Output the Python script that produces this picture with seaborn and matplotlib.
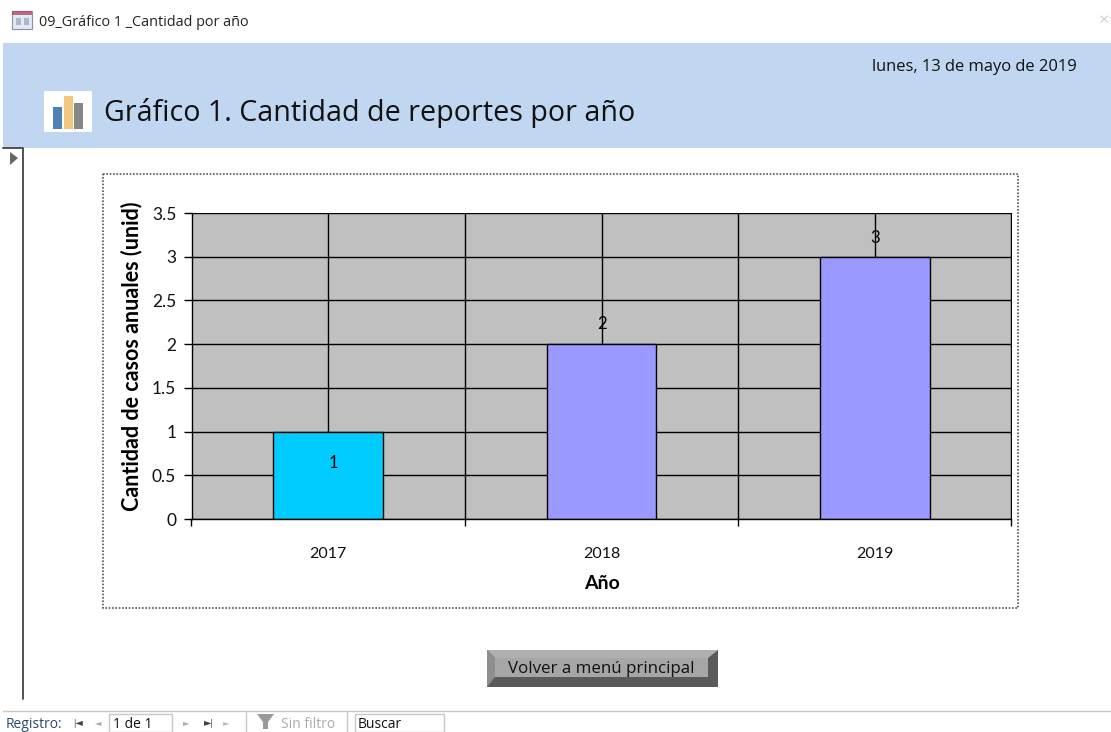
import matplotlib
matplotlib.use("Agg")
import matplotlib.pyplot as plt
from matplotlib.patches import Rectangle, Polygon
import pandas as pd
import seaborn as sns

#==================
#Chart data
#==================
years = ["2017", "2018", "2019"]
cases = [1, 2, 3]
bar_colors = ["#00CCFF", "#9999FF", "#9999FF"]
y_ticks = [0, 0.5, 1, 1.5, 2, 2.5, 3, 3.5]
y_labels = ["0", "0.5", "1", "1.5", "2", "2.5", "3", "3.5"]
label_dx = [5, 0, 0]
label_dy = [-31, 20, 19]

df = pd.DataFrame({"Year": years, "Cases": cases})

sns.set_theme(style="white")
plt.rcParams["font.family"] = ["Lato", "DejaVu Sans"]

W, H = 1111, 732
fig = plt.figure(figsize=(W / 100, H / 100), dpi=100)

#==================
#Window around the chart (pixel coordinates)
#==================
bg = fig.add_axes([0, 0, 1, 1], zorder=0)
bg.set_xlim(0, W)
bg.set_ylim(H, 0)
bg.axis("off")

# header band
bg.add_patch(Rectangle((3, 43), 1108, 105, fc="#C1D7F1", ec="none"))
bg.text(39, 23, "09_Gráfico 1 _Cantidad por año", fontsize=10.35, family="Open Sans",
        va="center", color="#222222")
bg.add_patch(Rectangle((12, 11), 20, 18, fc="#E4E8F2", ec="#8A8FA5", lw=0.8))
bg.add_patch(Rectangle((12, 11), 20, 4, fc="#B0405F", ec="none", alpha=0.75))
bg.add_patch(Rectangle((16, 18), 5, 7, fc="#AEB6CC", ec="none"))
bg.add_patch(Rectangle((24, 18), 5, 7, fc="#AEB6CC", ec="none"))
bg.text(1077, 67, "lunes, 13 de mayo de 2019", fontsize=11.9, family="Open Sans",
        ha="right", va="center", color="#111111")
bg.text(104, 113, "Gráfico 1. Cantidad de reportes por año", fontsize=20.6,
        family="Open Sans", va="center", color="#111111")
bg.text(1104, 20, "×", fontsize=13, ha="center", va="center", color="#D0D0D0")

# title icon
bg.add_patch(Rectangle((44, 91), 48, 41, fc="white", ec="none"))
bg.add_patch(Rectangle((53, 107), 9, 22, fc="#4F81B5", ec="none"))
bg.add_patch(Rectangle((64, 96), 9, 33, fc="#EFC77E", ec="none"))
bg.add_patch(Rectangle((74, 103), 9, 26, fc="#868686", ec="none"))

# record selector
bg.plot([3, 23, 23], [148, 148, 699], color="#444444", lw=1.3)
bg.add_patch(Polygon([(10, 152), (10, 165), (18, 158)], fc="#666666", ec="none"))

# dotted frame of the chart
bg.add_patch(Rectangle((102.5, 174), 915.5, 434, fc="white", ec="#555555", lw=1.2,
                       ls=(0, (1, 1))))

# button
bg.add_patch(Rectangle((487, 650), 231, 37, fc="#5A5A5A", ec="none"))
bg.add_patch(Polygon([(487, 650), (718, 650), (708, 658), (495, 658)], fc="#B0B0B0", ec="none"))
bg.add_patch(Polygon([(487, 650), (495, 658), (495, 677), (487, 687)], fc="#8E8E8E", ec="none"))
bg.add_patch(Rectangle((495, 658), 213, 19, fc="#A6A6A6", ec="none"))
bg.text(601, 669, "Volver a menú principal", fontsize=12.2, family="Open Sans",
        ha="center", va="center", color="#111111")

# record navigation bar
bg.plot([3, W], [711, 711], color="#C8C8C8", lw=1)
bg.text(6, 724, "Registro:", fontsize=10, family="Open Sans", va="center", color="#2B4A6B")
bg.text(73, 723, "|◄", fontsize=7, va="center", color="#444444")
bg.text(95, 723, "◄", fontsize=6, va="center", color="#AAAAAA")
bg.add_patch(Rectangle((109, 714), 63, 18, fc="white", ec="#C8C8C8", lw=1))
bg.text(113, 724, "1 de 1", fontsize=10, family="Open Sans", va="center", color="#111111")
bg.text(183, 723, "►", fontsize=6, va="center", color="#AAAAAA")
bg.text(204, 723, "►|", fontsize=7, va="center", color="#444444")
bg.text(223, 723, "►", fontsize=6, va="center", color="#BBBBBB")
bg.plot([246, 246], [712, H], color="#C8C8C8", lw=1)
bg.add_patch(Polygon([(257, 714), (274, 714), (268, 722), (268, 729), (263, 729), (263, 722)],
                     fc="#999999", ec="none"))
bg.text(281, 724, "Sin filtro", fontsize=10, family="Open Sans", va="center", color="#ABABAB")
bg.plot([347, 347], [712, H], color="#C8C8C8", lw=1)
bg.add_patch(Rectangle((355, 714), 89, 18, fc="white", ec="#C8C8C8", lw=1))
bg.text(358, 724, "Buscar", fontsize=10, family="Open Sans", va="center", color="#111111")

#==================
#Bar chart
#==================
left, right, top, bottom = 191.5, 1011.5, 213, 519
ax = fig.add_axes([left / W, 1 - bottom / H, (right - left) / W, (bottom - top) / H], zorder=1)
ax.set_facecolor("#C0C0C0")

sns.barplot(
    data=df,
    x="Year",
    y="Cases",
    hue="Year",
    palette=bar_colors,
    legend=False,
    width=0.4,
    edgecolor="black",
    linewidth=1.0,
    saturation=1,
    ax=ax,
)

ax.set_xlim(-0.5, 2.5)
ax.set_ylim(0, 3.5)
ax.set_yticks(y_ticks)
ax.set_yticklabels(y_labels, fontsize=12.5, color="#111111")
ax.set_xticks(range(len(years)))
ax.set_xticklabels(years, fontsize=11.5, color="#111111")
ax.set_xticks([-0.5, 0.5, 1.5, 2.5], minor=True)

ax.set_axisbelow(True)
ax.grid(True, which="both", color="black", lw=1.0)
ax.tick_params(axis="y", which="major", left=True, length=6, width=1.0, color="black", pad=5)
ax.tick_params(axis="x", which="major", bottom=False, pad=14)
ax.tick_params(axis="x", which="minor", bottom=True, length=5, width=1.0, color="black")

for side in ["top", "right"]:
    ax.spines[side].set_visible(False)
for side in ["left", "bottom"]:
    ax.spines[side].set_color("black")
    ax.spines[side].set_linewidth(1.0)

ax.set_xlabel("Año", fontsize=14, fontweight="bold", color="black", labelpad=10)
ax.set_ylabel("Cantidad de casos anuales (unid)", fontsize=15.5, fontweight="bold",
              color="black", labelpad=7, y=0.533)

for i, value in enumerate(cases):
    ax.annotate(str(value), (i, value), xytext=(label_dx[i] * 0.72, label_dy[i] * 0.72),
                textcoords="offset points", ha="center", va="center",
                fontsize=12, color="black")

plt.savefig("out.png", dpi=100)
